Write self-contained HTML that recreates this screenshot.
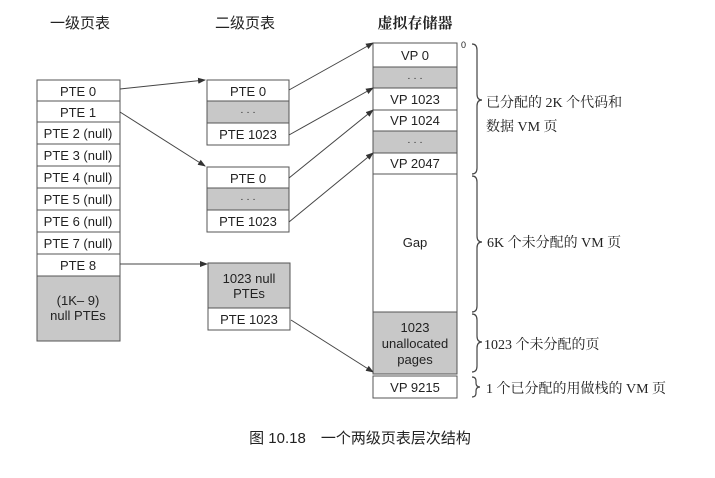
<!DOCTYPE html>
<html><head><meta charset="utf-8"><style>
body{margin:0;background:#fff;}
svg text{font-family:"Liberation Sans","Noto Sans CJK SC",sans-serif;fill:#222;}
.s{font-family:"Liberation Serif","Noto Serif CJK SC",serif !important;}
</style></head><body>
<svg width="715" height="473" viewBox="0 0 715 473" xmlns="http://www.w3.org/2000/svg">
<defs><marker id="a" markerWidth="8" markerHeight="8" refX="7" refY="4" orient="auto" markerUnits="userSpaceOnUse"><path d="M0,1 L8,4 L0,7 z" fill="#333"/></marker></defs>
<g font-size="14" text-anchor="middle">
<text x="80" y="28" font-size="15">一级页表</text>
<text x="245" y="28" font-size="15">二级页表</text>
<text x="415" y="28" font-size="15" class="s" font-weight="bold">虚拟存储器</text>
</g>
<g stroke="#555" stroke-width="1" fill="#fff">
<!-- left -->
<rect x="37" y="80" width="83" height="21"/><rect x="37" y="101" width="83" height="21"/>
<rect x="37" y="122" width="83" height="22"/><rect x="37" y="144" width="83" height="22"/>
<rect x="37" y="166" width="83" height="22"/><rect x="37" y="188" width="83" height="22"/>
<rect x="37" y="210" width="83" height="22"/><rect x="37" y="232" width="83" height="22"/>
<rect x="37" y="254" width="83" height="22"/><rect x="37" y="276" width="83" height="65" fill="#c8c8c8"/>
<!-- mid -->
<rect x="207" y="80" width="82" height="21"/><rect x="207" y="101" width="82" height="22" fill="#c8c8c8"/><rect x="207" y="123" width="82" height="22"/>
<rect x="207" y="167" width="82" height="21"/><rect x="207" y="188" width="82" height="22" fill="#c8c8c8"/><rect x="207" y="210" width="82" height="22"/>
<rect x="208" y="263" width="82" height="45" fill="#c8c8c8"/><rect x="208" y="308" width="82" height="22"/>
<!-- vm -->
<rect x="373" y="43" width="84" height="24"/><rect x="373" y="67" width="84" height="21" fill="#c8c8c8"/>
<rect x="373" y="88" width="84" height="22"/><rect x="373" y="110" width="84" height="21"/>
<rect x="373" y="131" width="84" height="22" fill="#c8c8c8"/><rect x="373" y="153" width="84" height="21"/>
<rect x="373" y="174" width="84" height="138"/><rect x="373" y="312" width="84" height="62" fill="#c8c8c8"/>
<rect x="373" y="376" width="84" height="22"/>
</g>
<g font-size="13" text-anchor="middle">
<text x="78" y="96">PTE 0</text><text x="78" y="117">PTE 1</text>
<text x="78" y="138">PTE 2 (null)</text><text x="78" y="160">PTE 3 (null)</text>
<text x="78" y="182">PTE 4 (null)</text><text x="78" y="204">PTE 5 (null)</text>
<text x="78" y="226">PTE 6 (null)</text><text x="78" y="248">PTE 7 (null)</text>
<text x="78" y="270">PTE 8</text><text x="78" y="305">(1K– 9)</text><text x="78" y="320">null PTEs</text>
<text x="248" y="96">PTE 0</text><text x="248" y="115" font-size="10">· · ·</text><text x="248" y="139">PTE 1023</text>
<text x="248" y="183">PTE 0</text><text x="248" y="202" font-size="10">· · ·</text><text x="248" y="226">PTE 1023</text>
<text x="249" y="283">1023 null</text><text x="249" y="298">PTEs</text><text x="249" y="324">PTE 1023</text>
<text x="415" y="60">VP 0</text><text x="415" y="81" font-size="10">· · ·</text>
<text x="415" y="104">VP 1023</text><text x="415" y="125">VP 1024</text>
<text x="415" y="145" font-size="10">· · ·</text><text x="415" y="168">VP 2047</text>
<text x="415" y="247">Gap</text>
<text x="415" y="332">1023</text><text x="415" y="348">unallocated</text><text x="415" y="364">pages</text>
<text x="415" y="392">VP 9215</text>
</g>
<text x="461" y="48" font-size="9">0</text>
<g stroke="#444" stroke-width="1.2" fill="none">
<path d="M472,44 q5,0 5,6 v44 q0,6 5,6 q-5,0 -5,6 v62 q0,6 -5,6"/>
<path d="M472,176 q5,0 5,6 v54 q0,6 5,6 q-5,0 -5,6 v58 q0,6 -5,6"/>
<path d="M472,314 q5,0 5,6 v16 q0,6 5,6 q-5,0 -5,6 v18 q0,6 -5,6"/>
<path d="M472,377 q4,0 4,4 v2 q0,4 4,4 q-4,0 -4,4 v2 q0,4 -4,4"/>
</g>
<g font-size="14" class="s">
<text x="486" y="107" class="s">已分配的 2K 个代码和</text>
<text x="486" y="131" class="s">数据 VM 页</text>
<text x="487" y="247" class="s">6K 个未分配的 VM 页</text>
<text x="484" y="349" class="s">1023 个未分配的页</text>
<text x="486" y="393" class="s">1 个已分配的用做栈的 VM 页</text>
</g>
<g stroke="#444" stroke-width="1" marker-end="url(#a)">
<line x1="120" y1="89" x2="205" y2="80"/>
<line x1="120" y1="112" x2="205" y2="166"/>
<line x1="120" y1="264" x2="207" y2="264"/>
<line x1="289" y1="90" x2="373" y2="43"/>
<line x1="289" y1="135" x2="373" y2="88"/>
<line x1="289" y1="178" x2="373" y2="110"/>
<line x1="289" y1="222" x2="373" y2="153"/>
<line x1="291" y1="320" x2="373" y2="372"/>
</g>
<text x="360" y="443" font-size="15" text-anchor="middle">图 10.18　一个两级页表层次结构</text>
</svg>
</body></html>
